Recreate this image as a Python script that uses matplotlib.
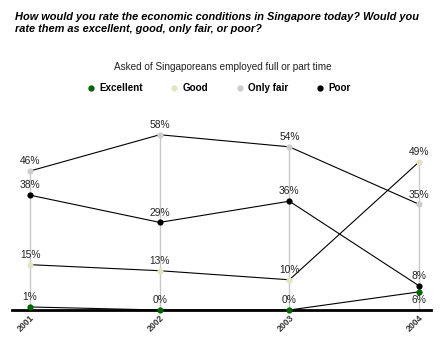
import matplotlib
matplotlib.use("Agg")
import matplotlib.pyplot as plt
from matplotlib.lines import Line2D

years = ["2001", "2002", "2003", "2004"]
excellent = [1, 0, 0, 6]
good = [15, 13, 10, 49]
only_fair = [46, 58, 54, 35]
poor = [38, 29, 36, 8]

series = [
    ("Excellent", excellent, "#006600"),
    ("Good", good, "#e3e3c3"),
    ("Only fair", only_fair, "#cccccc"),
    ("Poor", poor, "#000000"),
]

plt.rcParams['font.family'] = ['Liberation Sans', 'DejaVu Sans']

fig = plt.figure(figsize=(4.4, 3.4), dpi=100)
ax = fig.add_axes([12 / 440, 1 - 310 / 340, 419 / 440, 181 / 340])

xs = list(range(len(years)))
tops = [max(v) for v in zip(excellent, good, only_fair, poor)]
ax.vlines(xs, 0, tops, color="#c8c8c8", lw=1, zorder=1)

for name, vals, col in series:
    ax.plot(xs, vals, color="black", lw=0.8, zorder=2)
    ax.scatter(xs, vals, s=20, color=col, zorder=3, clip_on=False, linewidths=0)

for name, vals, col in series:
    for i, v in enumerate(vals):
        below = (name == "Excellent" and i == 3)
        off = -6 if below else 7
        ax.annotate(f"{v}%", (i, v), xytext=(0, off), textcoords="offset points",
                    ha="center", va="center", fontsize=7.4, color="#222222")

ax.set_xlim(-0.139, 3.0925)
ax.set_ylim(0, 59.9)
for s in ["top", "left", "right"]:
    ax.spines[s].set_visible(False)
ax.spines["bottom"].set_linewidth(2)
ax.set_yticks([])
ax.set_xticks(xs)
ax.set_xticklabels(years, rotation=45, ha="right", va="top", rotation_mode="anchor",
                   fontsize=6.3, fontweight="bold", color="#333333")
ax.tick_params(axis="x", length=0, pad=2)

fig.text(15 / 440, 1 - 12 / 340,
         "How would you rate the economic conditions in Singapore today? Would you\nrate them as excellent, good, only fair, or poor?",
         fontsize=7.9, fontweight="bold", fontstyle="italic", va="top", ha="left", linespacing=1.3)
fig.text(223 / 440, 1 - 67 / 340, "Asked of Singaporeans employed full or part time",
         fontsize=7.2, ha="center", va="center", color="#222222")

handles = [Line2D([], [], marker="o", ls="", color=c, markersize=3.5) for _, _, c in series]
leg = fig.legend(handles, [n for n, _, _ in series], loc="center", bbox_to_anchor=(219 / 440, 1 - 88 / 340),
                 ncol=4, frameon=False, handlelength=0.7, handletextpad=0.5, columnspacing=2.85,
                 prop={"size": 7.1, "weight": "bold"})

fig.savefig("out.png", dpi=100)
